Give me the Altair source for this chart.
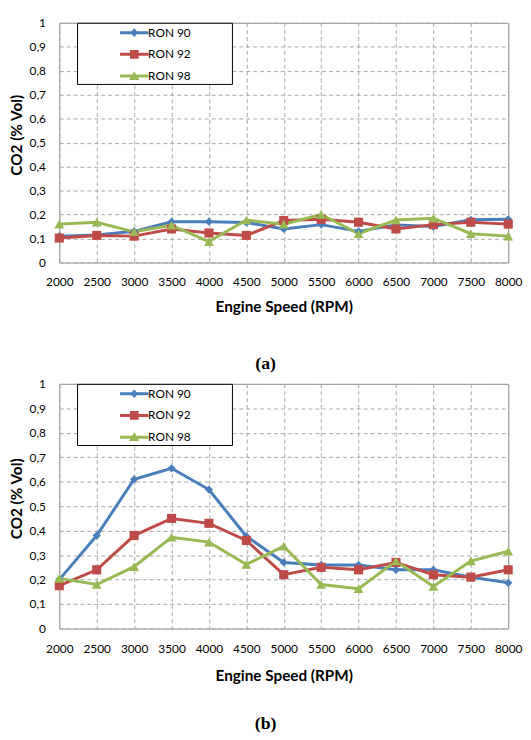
import altair as alt
import pandas as pd

speeds = [2000, 2500, 3000, 3500, 4000, 4500, 5000, 5500, 6000, 6500, 7000, 7500, 8000]
series_names = ["RON 90", "RON 92", "RON 98"]
colors = ["#4A7EBB", "#BE4B48", "#98B954"]

# Panel (a)
a_ron90 = [0.11, 0.115, 0.13, 0.17, 0.17, 0.167, 0.14, 0.158, 0.13, 0.157, 0.15, 0.178, 0.18]
a_ron92 = [0.102, 0.113, 0.11, 0.14, 0.123, 0.113, 0.175, 0.18, 0.168, 0.14, 0.158, 0.168, 0.16]
a_ron98 = [0.16, 0.168, 0.128, 0.155, 0.087, 0.177, 0.16, 0.2, 0.12, 0.177, 0.185, 0.12, 0.11]

# Panel (b)
b_ron90 = [0.2, 0.38, 0.61, 0.655, 0.568, 0.377, 0.27, 0.26, 0.26, 0.24, 0.24, 0.21, 0.187]
b_ron92 = [0.175, 0.24, 0.38, 0.45, 0.43, 0.36, 0.22, 0.25, 0.24, 0.27, 0.22, 0.21, 0.24]
b_ron98 = [0.205, 0.18, 0.253, 0.373, 0.353, 0.262, 0.336, 0.18, 0.163, 0.276, 0.172, 0.276, 0.316]

y_ticks = [0, 0.1, 0.2, 0.3, 0.4, 0.5, 0.6, 0.7, 0.8, 0.9, 1]

marker_shapes = ["diamond", "square", "triangle-up"]
marker_sizes = [70, 85, 100]
legend_paths = [
    "M-1.8,-0.19H1.8V0.19H-1.8Z M0,-0.55L0.5,0L0,0.55L-0.5,0Z",
    "M-1.8,-0.19H1.8V0.19H-1.8Z M-0.55,-0.55H0.55V0.55H-0.55Z",
    "M-1.8,-0.19H1.8V0.19H-1.8Z M0,-0.62L0.66,0.5H-0.66Z",
]


def long_df(v90, v92, v98):
    rows = []
    for name, vals in zip(series_names, [v90, v92, v98]):
        for s, v in zip(speeds, vals):
            rows.append({"rpm": s, "co2": v, "series": name})
    return pd.DataFrame(rows)


def panel(df, caption, height, cap_offset, lab_pad, tit_pad):
    x = alt.X(
        "rpm:Q",
        scale=alt.Scale(domain=[2000, 8000], nice=False, zero=False),
        axis=alt.Axis(
            values=speeds, format="d", title="Engine Speed (RPM)",
            grid=True, gridDash=[4, 3], gridColor="#a8a8a8", ticks=False, domain=False,
            labelFlush=False, labelOverlap=False,
            labelFont="Lato", labelFontSize=12, labelColor="#000000", labelPadding=lab_pad,
            titleFont="Lato", titleFontSize=15.5, titleFontWeight="bold", titleColor="#000000",
            titlePadding=tit_pad,
        ),
    )
    y = alt.Y(
        "co2:Q",
        scale=alt.Scale(domain=[0, 1], nice=False),
        axis=alt.Axis(
            values=y_ticks, title="CO2 (% Vol)",
            labelExpr="replace(format(datum.value, '.1~f'), '.', ',')",
            grid=True, gridDash=[4, 3], gridColor="#a8a8a8", ticks=False, domain=False,
            labelFlush=False, labelOverlap=False,
            labelFont="Lato", labelFontSize=12, labelColor="#000000", labelPadding=14,
            titleFont="Lato", titleFontSize=15.5, titleFontWeight="bold", titleColor="#000000",
            titlePadding=5, titleY=height / 2 - 8,
        ),
    )
    color_scale = alt.Scale(domain=series_names, range=colors)
    leg = alt.Legend(
        title="\u00a0\u00a0", titleOrient="right", titlePadding=40, titleFontSize=12,
        orient="none", legendX=18, legendY=0,
        strokeColor="#000000", fillColor="#ffffff", padding=2, rowPadding=8,
        symbolSize=256, symbolStrokeWidth=0, symbolOffset=48, labelOffset=6,
        labelFont="Lato", labelFontSize=12, labelColor="#000000",
    )
    legend_layer = (
        alt.Chart(df).transform_filter("false")
        .mark_point(filled=True, opacity=1)
        .encode(
            x=x, y=y,
            color=alt.Color("series:N", scale=color_scale, legend=leg),
            shape=alt.Shape("series:N", scale=alt.Scale(domain=series_names, range=legend_paths), legend=leg),
        )
    )
    lines = alt.Chart(df).mark_line(strokeWidth=3).encode(
        x=x, y=y, color=alt.Color("series:N", scale=color_scale, legend=None)
    )
    layers = [legend_layer, lines]
    for name, shp, sz in zip(series_names, marker_shapes, marker_sizes):
        layers.append(
            alt.Chart(df).transform_filter(alt.datum.series == name)
            .mark_point(shape=shp, filled=True, size=sz, opacity=1)
            .encode(x=x, y=y, color=alt.Color("series:N", scale=color_scale, legend=None))
        )
    return (
        alt.layer(*layers)
        .resolve_scale(color="independent", shape="independent")
        .resolve_legend(color="independent", shape="independent")
        .properties(
            width=455, height=height,
            title=alt.TitleParams(
                caption, orient="bottom", anchor="middle", frame="bounds",
                font="Liberation Serif", fontSize=18, fontWeight="bold", color="#000000",
                offset=cap_offset,
            ),
        )
    )


top = panel(long_df(a_ron90, a_ron92, a_ron98), "(a)", 243, 40, 14, 13)
bottom = panel(long_df(b_ron90, b_ron92, b_ron98), "(b)", 248, 31, 15, 15)

chart = (
    alt.vconcat(top, bottom, spacing=4)
    .resolve_scale(color="independent", shape="independent")
    .resolve_legend(color="independent", shape="independent")
    .properties(padding={"left": 0, "top": 3, "right": 0, "bottom": 0}, background="#ffffff")
    .configure_view(stroke="#8c8c8c", strokeWidth=1)
)

chart.save("out.html", embed_options={"renderer": "svg", "actions": False})
